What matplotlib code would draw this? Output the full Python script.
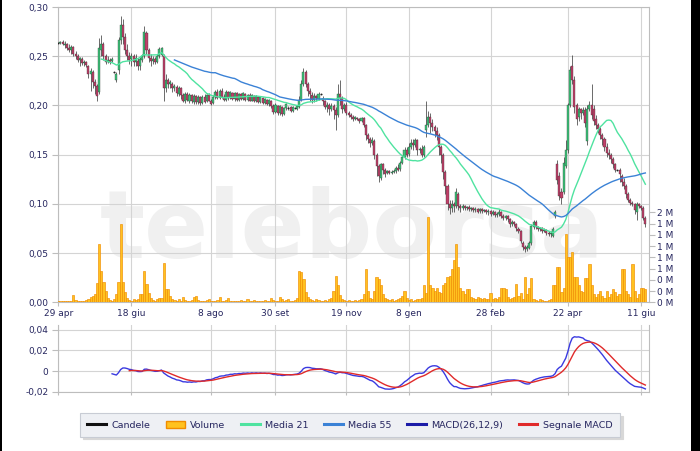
import matplotlib
matplotlib.use('Agg')
import matplotlib.pyplot as plt
import numpy as np
import pandas as pd
from matplotlib.lines import Line2D
from matplotlib.patches import Patch, Rectangle
from matplotlib.ticker import FixedLocator, FuncFormatter

# ---- data (prices in thousandths of euro, volumes in thousands of shares) ----
opens = [
    263,263,264,261,262,258,256,259,252,250, 246,247,243,244,240,232,234,224,220,214,
    256,262,250,244,246,245,234,226,236,266, 282,270,256,250,247,250,244,245,240,246,
    250,274,256,248,245,247,244,250,251,250, 218,226,222,222,218,219,212,218,211,204,
    212,205,211,203,210,203,209,202,209,204, 211,205,202,209,214,208,215,209,206,214,
    208,213,207,213,206,212,207,212,206,211, 205,210,204,209,203,208,202,206,201,205,
    199,193,199,192,198,191,197,197,198,194, 197,196,198,206,222,234,222,215,211,206,
    210,207,212,207,204,198,200,196,199,195, 190,212,208,196,200,192,190,188,186,187,
    186,184,187,180,170,166,162,164,150,138, 126,140,134,131,133,131,132,133,136,135,
    142,148,155,151,158,162,160,165,155,156, 150,175,180,188,182,178,174,170,158,150,
    132,118,100,96,100,98,110,98,96,98, 96,97,95,96,94,95,93,95,93,94,
    92,93,90,92,89,90,92,88,86,88, 85,80,82,80,74,72,60,56,54,55,
    60,76,82,76,74,75,72,73,70,69, 67,88,140,128,112,112,138,155,200,240,
    226,200,188,196,192,195,164,196,200,196, 186,180,176,170,166,158,152,150,146,140,
    134,134,128,122,118,110,104,101,100,92, 100,98,96,86]
closes = [
    263,264,262,262,258,256,259,252,250,246, 248,243,244,241,232,235,224,220,210,258,
    262,250,244,246,244,247,234,232,266,282, 270,256,250,246,250,244,248,240,247,250,
    275,256,248,245,247,244,250,257,258,218, 226,222,224,218,220,213,218,211,205,212,
    206,211,204,210,203,209,202,209,203,211, 205,201,209,214,208,215,209,206,214,208,
    214,207,213,206,212,207,213,206,211,205, 211,204,210,203,209,202,207,201,206,199,
    193,200,192,199,191,197,201,197,194,198, 197,199,206,222,234,222,215,212,206,210,
    208,212,212,204,198,200,196,199,195,190, 212,208,196,200,192,190,188,186,188,186,
    184,187,180,170,166,162,165,150,138,128, 140,134,130,133,131,132,133,136,134,142,
    148,155,150,158,162,160,165,155,156,150, 158,180,188,182,178,174,170,158,150,132,
    118,100,96,100,98,112,98,96,98,96, 97,95,96,94,95,92,95,93,94,92,
    93,90,92,89,90,92,88,86,88,85, 80,82,80,75,72,62,56,54,56,60,
    78,82,76,74,75,72,73,70,69,70, 74,92,124,108,106,142,155,200,236,226,
    198,186,196,192,195,182,196,200,190,184, 180,176,170,166,158,152,150,146,140,134,
    134,130,122,118,110,104,101,100,94,100, 98,96,86,80]
highs = [
    264,265,266,265,263,262,261,260,255,252, 249,249,246,245,241,238,236,227,222,268,
    272,264,252,250,248,249,235,234,270,291, 288,274,262,254,253,252,252,248,249,252,
    281,276,258,252,250,249,252,259,259,252, 232,228,226,224,222,221,220,219,213,214,
    214,213,212,212,211,211,210,211,212,212, 213,207,211,216,217,217,218,212,216,215,
    215,214,214,214,213,213,214,213,212,213, 212,211,211,210,210,209,208,207,207,206,
    201,202,200,200,199,198,202,199,199,199, 198,200,210,226,238,236,224,218,214,213,
    211,214,213,210,206,203,202,202,201,198, 222,226,210,202,203,194,192,190,189,188,
    187,188,188,181,172,168,168,166,152,140, 142,142,136,134,134,134,135,138,140,144,
    150,158,158,162,166,166,167,166,158,160, 160,205,194,192,186,180,178,172,160,152,
    134,120,104,104,102,116,112,100,100,99, 98,99,97,97,97,96,96,96,95,95,
    95,94,94,93,92,95,93,90,89,89, 86,84,83,81,76,73,62,58,58,62,
    80,84,84,78,76,76,75,74,72,72, 76,94,145,132,116,148,165,202,240,251,
    230,202,198,197,198,198,200,204,222,200, 190,182,178,172,168,162,156,152,148,142,
    135,136,130,126,120,112,106,103,101,102, 101,99,98,88]
lows = [
    262,262,261,258,256,254,252,250,247,244, 240,241,240,239,228,215,218,212,204,212,
    250,246,242,243,242,244,233,224,232,262, 262,252,246,242,240,240,240,236,236,244,
    248,252,244,240,242,242,243,248,250,204, 214,218,218,214,215,210,210,207,203,202,
    204,202,202,201,201,201,200,201,202,203, 204,200,201,207,207,207,208,205,205,206,
    207,206,205,204,205,206,206,205,205,204, 204,203,203,202,202,201,201,200,199,197,
    191,192,190,190,189,190,195,195,193,193, 196,195,197,204,220,219,210,205,202,203,
    204,206,211,200,196,193,190,194,186,175, 188,200,192,194,190,188,186,184,185,185,
    182,183,178,165,162,158,160,146,128,122, 124,130,127,130,130,130,131,131,133,133,
    140,146,148,149,156,155,158,150,152,148, 148,168,178,172,174,168,165,150,142,125,
    110,94,90,92,92,96,94,92,94,94, 94,93,93,92,92,91,91,91,92,90,
    89,88,89,87,87,88,86,84,84,82, 77,78,78,72,70,60,53,51,52,54,
    58,74,74,72,72,70,71,68,67,66, 66,86,120,104,100,110,136,152,198,222,
    192,180,184,186,190,178,160,194,186,180, 176,172,166,160,154,148,146,142,136,132,
    133,122,118,115,106,102,99,98,90,84, 96,94,84,77]
volumes = [
    20,15,25,20,30,20,25,130,40,20,30,25,20,40,60,90,120,
    150,340,1030,550,360,200,80,
    40,30,60,140,
    360,1390,360,180,80,
    40,30,50,40,60,150,
    150,550,320,160,80,
    40,30,50,80,
    80,700,240,240,120,60,
    40,30,50,30,100,40,30,20,40,90,
    120,40,30,20,30,40,60,30,20,30,
    40,90,30,20,40,80,30,20,30,20,
    30,40,20,30,60,30,20,40,30,20,
    30,20,40,30,20,70,40,30,20,90,
    50,30,40,60,30,20,40,80,
    550,530,420,190,100,
    60,40,30,50,40,30,20,40,30,60,80,
    200,460,300,130,
    60,40,30,40,20,30,40,30,40,60,
    150,600,200,
    80,60,
    200,450,420,300,150,
    80,60,40,50,30,40,60,80,
    120,200,80,
    40,60,30,40,50,60,80,
    300,160,1520,300,250,200,
    260,180,170,300,350,450,460,600,750,1030,620,260,200,150,
    240,240,100,80,60,90,70,50,80,60,50,
    170,60,80,50,100,260,260,240,100,60,
    80,100,330,120,170,60,450,150,260,430,
    60,40,30,50,40,30,20,40,60,
    300,300,620,620,190,
    250,1210,800,800,890,450,
    450,300,200,180,430,430,680,300,150,
    100,150,200,120,80,200,100,150,240,180,
    120,150,600,600,200,150,100,680,200,80,
    150,260,260,240]

date_tick_pos = [0, 34, 71, 101, 134, 163, 201, 237, 271]
date_tick_labels = ['29 apr', '18 giu', '8 ago', '30 set', '19 nov',
                    '8 gen', '28 feb', '22 apr', '11 giu']
price_ticks = [0.0, 0.05, 0.10, 0.15, 0.20, 0.25, 0.30]
volume_ticks = [0.0, 0.2, 0.4, 0.6, 0.8, 1.0, 1.2, 1.4, 1.6]
macd_ticks = [-0.02, 0.0, 0.02, 0.04]

# ---- derived ----
o = np.array(opens) / 1000.0
c = np.array(closes) / 1000.0
h = np.array(highs) / 1000.0
l = np.array(lows) / 1000.0
v = np.array(volumes) / 1000.0  # millions
N = len(c)
assert len(o) == N and len(h) == N and len(l) == N and len(v) == N
idx = np.arange(N)
cs = pd.Series(c)
ma21 = cs.rolling(21).mean()
ma55 = cs.rolling(55).mean()
ema12 = cs.ewm(span=12, adjust=False).mean()
ema26 = cs.ewm(span=26, adjust=False).mean()
macd = ema12 - ema26
signal = macd.ewm(span=9, adjust=False).mean()
macd_show = macd.where(idx >= 25)
signal_show = signal.where(idx >= 33)

# ---- style ----
TXT = '#26265f'
GRID = '#d4d4d4'
SPINE = '#bdbdbd'
GREEN_BODY = '#3cc47a'
RED_BODY = '#c0406a'
MA21_C = '#4fe3a0'
MA55_C = '#3b82d6'
MACD_C = '#3a3ae0'
SIG_C = '#e02a2a'
plt.rcParams['font.family'] = ['DejaVu Sans']

fig = plt.figure(figsize=(7.0, 4.51), dpi=100)
fig.patch.set_facecolor('white')

W, H = 700.0, 451.0
x0, x1 = 58.0, 649.0
yt, yb = 7.0, 302.3
rect_main = [x0 / W, (H - yb) / H, (x1 - x0) / W, (yb - yt) / H]
m_top, m_bot = 325.0, 391.7
rect_macd = [x0 / W, (H - m_bot) / H, (x1 - x0) / W, (m_bot - m_top) / H]

xlim = (-0.15, 274.7)

# background axes: grid, price scale, dates
axg = fig.add_axes(rect_main)
axg.set_zorder(0)
axg.set_xlim(*xlim)
axg.set_ylim(0, 0.30)
axg.set_axisbelow(True)
axg.xaxis.set_major_locator(FixedLocator(date_tick_pos))
axg.set_xticklabels(date_tick_labels)
axg.yaxis.set_major_locator(FixedLocator(price_ticks))
axg.yaxis.set_major_formatter(FuncFormatter(lambda val, p: f"{val:.2f}".replace('.', ',')))
axg.grid(True, color=GRID, lw=0.8)
axg.tick_params(axis='both', colors=SPINE, labelcolor=TXT, labelsize=6.5, length=4, width=0.8)
axg.tick_params(axis='x', length=3, pad=2)
axg.tick_params(axis='y', pad=3)
for s in axg.spines.values():
    s.set_color(SPINE)
    s.set_linewidth(0.8)
axg.text(0.071, 0.15, 'teleborsa', transform=axg.transAxes, fontsize=68,
         fontweight='bold', color='#f0f0f0', ha='left', va='baseline', zorder=0.1)

# volume axes
axv = axg.twinx()
axv.set_zorder(1)
axv.patch.set_visible(False)
axv.set_ylim(0, 5.25)
axv.set_xlim(*xlim)
axv.bar(idx, v, width=1.0, facecolor='#ffc21f', edgecolor='#f08c00', linewidth=0.45)
axv.yaxis.set_major_locator(FixedLocator(volume_ticks))
axv.yaxis.set_major_formatter(FuncFormatter(lambda val, p: f"{val:.0f} M"))
axv.tick_params(axis='y', colors=SPINE, labelcolor=TXT, labelsize=6.5, length=4, width=0.8, pad=2)
for s in axv.spines.values():
    s.set_visible(False)

# price axes (candles, averages)
axp = fig.add_axes(rect_main, sharex=axg, sharey=axg)
axp.set_zorder(2)
axp.patch.set_visible(False)
axp.axis('off')
up = c > o
dn = c < o
fl = c == o
axp.vlines(idx, l, h, color='#303030', lw=0.5, zorder=3)
axp.bar(idx[up], (c - o)[up], bottom=o[up], width=0.95, color=GREEN_BODY,
        edgecolor='#2d3a30', linewidth=0.25, zorder=4)
axp.bar(idx[dn], (o - c)[dn], bottom=c[dn], width=0.95, color=RED_BODY,
        edgecolor='#3a2d30', linewidth=0.25, zorder=4)
axp.hlines(c[fl], idx[fl] - 0.5, idx[fl] + 0.5, color='#222222', lw=0.9, zorder=4)
axp.plot(idx, ma21, color=MA21_C, lw=1.0, zorder=5)
axp.plot(idx, ma55, color=MA55_C, lw=1.0, zorder=5)
axp.set_xlim(*xlim)
axp.set_ylim(0, 0.30)

# MACD panel
axm = fig.add_axes(rect_macd, sharex=axg)
axm.set_ylim(-0.02, 0.0445)
axm.set_axisbelow(True)
axm.plot(idx, macd_show, color=MACD_C, lw=1.0)
axm.plot(idx, signal_show, color=SIG_C, lw=1.0)
axm.yaxis.set_major_locator(FixedLocator(macd_ticks))
axm.yaxis.set_major_formatter(FuncFormatter(
    lambda val, p: '0' if abs(val) < 1e-9 else f"{val:.2f}".replace('.', ',')))
axm.grid(True, color=GRID, lw=0.8)
axm.tick_params(axis='both', colors=SPINE, labelcolor=TXT, labelsize=6.5, length=3, width=0.8)
axm.tick_params(axis='x', labelbottom=False, length=2)
axm.tick_params(axis='y', pad=3, length=4)
for name, s in axm.spines.items():
    s.set_color(SPINE)
    s.set_linewidth(0.8)
axm.spines['top'].set_visible(False)
axm.set_xlim(*xlim)

# legend
handles = [
    Line2D([], [], color='#111111', lw=2.2),
    Patch(facecolor='#ffc21f', edgecolor='#f08c00'),
    Line2D([], [], color=MA21_C, lw=2.2),
    Line2D([], [], color=MA55_C, lw=2.2),
    Line2D([], [], color='#1c1ca8', lw=2.2),
    Line2D([], [], color=SIG_C, lw=2.2),
]
labels = ['Candele', 'Volume', 'Media 21', 'Media 55', 'MACD(26,12,9)', 'Segnale MACD']
leg = fig.legend(handles, labels, loc='center', bbox_to_anchor=(0.5, 0.0576), ncol=6,
                 fontsize=6.8, frameon=True, fancybox=False, handlelength=2.0,
                 handletextpad=0.6, columnspacing=1.6, borderpad=0.75,
                 shadow={'color': '#d8d8d8', 'alpha': 1.0})
leg.get_frame().set_facecolor('#eef0f4')
leg.get_frame().set_edgecolor('#c8ccd4')
leg.get_frame().set_linewidth(0.8)
for t in leg.get_texts():
    t.set_color(TXT)

# dark image borders
fig.patches.append(Rectangle((0, 0), 2.0 / W, 1, transform=fig.transFigure,
                             facecolor='black', edgecolor='none', zorder=10))
fig.patches.append(Rectangle((691.0 / W, 0), 9.0 / W, 1, transform=fig.transFigure,
                             facecolor='black', edgecolor='none', zorder=10))

fig.savefig('out.png', dpi=100)
